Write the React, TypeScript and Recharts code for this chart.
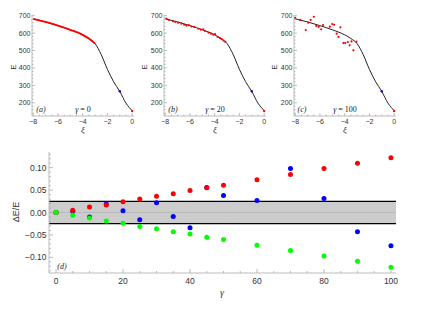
import React from 'react';
import { ComposedChart, Line, Scatter, XAxis, YAxis, ReferenceArea, ReferenceLine } from 'recharts';

const FRAME = '#ababab';
const TICK_TEXT = '#333333';
const SANS = '"Liberation Sans", Arial, sans-serif';
const SERIF = '"Liberation Serif", "Times New Roman", serif';

// fitted E(ξ) curve, drawn in all three top panels
const curveXi = [-8, -7, -6, -5, -4, -3.5, -3, -2.5, -2, -1.5, -1, -0.5, 0];
const curveE = [682, 664, 643, 619, 590, 569, 540, 476, 392, 321, 265, 198, 155];

// (a) γ = 0: the red points lie on the curve from ξ = -8 to -3
const redXiA = [-8, -7, -6, -5, -4, -3.5, -3];
const redEA = [682, 664, 643, 619, 590, 569, 540];

// (b) γ = 20
const redXiB = [-7.9, -7.7, -7.37, -7.18, -6.96, -6.69, -6.47, -6.29, -6.1, -5.88, -5.66, -5.33, -5.12, -4.92, -4.79, -4.5, -4.3, -4.11, -3.97, -3.76, -3.57, -3.43, -3.29, -3.15];
const redEB = [684, 676, 668, 664, 660, 654, 648, 643, 646, 638, 636, 625, 620, 622, 612, 603, 597, 591, 594, 578, 571, 566, 557, 550];

// (c) γ = 100
const redXiC = [-8.0, -7.6, -7.15, -6.95, -6.75, -6.5, -6.3, -6.1, -5.9, -5.75, -5.2, -5.0, -4.85, -4.65, -4.5, -4.35, -4.1, -3.95, -3.75, -3.6, -3.45, -3.3, -3.05];
const redEC = [687, 676, 618, 660, 676, 694, 641, 636, 622, 646, 637, 652, 648, 597, 578, 633, 543, 543, 549, 530, 552, 501, 551];

// points common to every top panel
const endXi = [0];
const endE = [152];
const blueXi = [-1];
const blueE = [266];

// (d) relative deviation vs γ
const gammas = [0, 5, 10, 15, 20, 25, 30, 35, 40, 45, 50, 60, 70, 80, 90, 100];
const redDev = [0, 0.005, 0.012, 0.017, 0.024, 0.03, 0.036, 0.042, 0.049, 0.055, 0.061, 0.073, 0.085, 0.098, 0.11, 0.122];
const blueDev = [0, 0.003, -0.01, 0.019, 0.004, -0.016, 0.022, -0.009, -0.034, 0.056, 0.038, 0.027, 0.098, 0.031, -0.043, -0.074];
const greenDev = [0, -0.006, -0.012, -0.019, -0.024, -0.031, -0.036, -0.043, -0.048, -0.055, -0.06, -0.073, -0.085, -0.097, -0.109, -0.122];

const BAND = 0.025;

const xiMajor = [-8, -6, -4, -2, 0];
const eMajor = [200, 300, 400, 500, 600, 700];
const gammaMajor = [0, 20, 40, 60, 80, 100];
const devMajor = [-0.1, -0.05, 0, 0.05, 0.1];

const steps = (from: number, to: number, step: number) => {
  const out: number[] = [];
  for (let i = 0; from + i * step <= to + 1e-9; i++) out.push(+(from + i * step).toFixed(4));
  return out;
};
const xiTicks = steps(-8, 0, 0.5);
const eTicks = steps(140, 700, 20);
const gammaTicks = steps(0, 100, 5);
const devTicks = steps(-0.13, 0.13, 0.01);

const pts = (xs: number[], ys: number[]) => xs.map((x, i) => ({ x, y: ys[i] }));
const minus = (s: string) => s.replace('-', '\u2212');

const isIn = (v: number, list: number[]) => list.some(m => Math.abs(m - v) < 1e-6);

// Mathematica-like ticks: inward, labelled only on major values
const bottomTick = (major: number[], fmt: (v: number) => string, fontSize: number, dy: number, big: number, small: number) =>
  (p: any) => {
    const m = isIn(p.payload.value, major);
    return (
      <g>
        <line x1={p.x} x2={p.x} y1={p.y} y2={p.y - (m ? big : small)} stroke={FRAME} strokeWidth={0.8} />
        {m && (
          <text x={p.x} y={p.y + dy} textAnchor="middle" fontSize={fontSize} fontFamily={SANS} fill={TICK_TEXT}>
            {fmt(p.payload.value)}
          </text>
        )}
      </g>
    );
  };

const leftTick = (major: number[], fmt: (v: number) => string, fontSize: number, dx: number, big: number, small: number) =>
  (p: any) => {
    const m = isIn(p.payload.value, major);
    return (
      <g>
        <line x1={p.x} x2={p.x + (m ? big : small)} y1={p.y} y2={p.y} stroke={FRAME} strokeWidth={0.8} />
        {m && (
          <text x={p.x - dx} y={p.y + fontSize * 0.36} textAnchor="end" fontSize={fontSize} fontFamily={SANS} fill={TICK_TEXT}>
            {fmt(p.payload.value)}
          </text>
        )}
      </g>
    );
  };

const topTick = (major: number[], big: number, small: number) => (p: any) => {
  const m = isIn(p.payload.value, major);
  return <line x1={p.x} x2={p.x} y1={p.y} y2={p.y + (m ? big : small)} stroke={FRAME} strokeWidth={0.8} />;
};

const rightTick = (major: number[], big: number, small: number) => (p: any) => {
  const m = isIn(p.payload.value, major);
  return <line x1={p.x} x2={p.x - (m ? big : small)} y1={p.y} y2={p.y} stroke={FRAME} strokeWidth={0.8} />;
};

const dot = (r: number, fill: string) => (p: any) => <circle cx={p.cx} cy={p.cy} r={r} fill={fill} />;

const XI_DOMAIN: [number, number] = [-8.1, 0.15];
const E_DOMAIN: [number, number] = [124, 704];

interface PanelProps {
  left: number;
  red: { x: number; y: number }[];
  redLine?: boolean;
}

const EPanel: React.FC<PanelProps> = ({ left, red, redLine }) => (
  <div style={{ position: 'absolute', left, top: 0 }}>
    <ComposedChart width={140} height={140} margin={{ top: 15, right: 6, bottom: 4, left: 0 }}>
      <XAxis type="number" dataKey="x" domain={XI_DOMAIN} allowDataOverflow ticks={xiTicks} interval={0}
        tickSize={0} tickMargin={0} height={20} axisLine={{ stroke: FRAME, strokeWidth: 0.8 }}
        tick={bottomTick(xiMajor, v => minus(String(v)), 7, 8.2, 3, 1.5)} />
      <XAxis xAxisId="top" orientation="top" type="number" domain={XI_DOMAIN} allowDataOverflow ticks={xiTicks} interval={0}
        tickSize={0} tickMargin={0} height={0} axisLine={{ stroke: FRAME, strokeWidth: 0.8 }} tick={topTick(xiMajor, 3, 1.5)} />
      <YAxis type="number" dataKey="y" domain={E_DOMAIN} allowDataOverflow ticks={eTicks} interval={0}
        tickSize={0} tickMargin={0} width={32} axisLine={{ stroke: FRAME, strokeWidth: 0.8 }}
        tick={leftTick(eMajor, v => String(v), 7, 1.5, 3, 1.5)} />
      <YAxis yAxisId="right" orientation="right" type="number" domain={E_DOMAIN} allowDataOverflow ticks={eTicks} interval={0}
        tickSize={0} tickMargin={0} width={0} axisLine={{ stroke: FRAME, strokeWidth: 0.8 }} tick={rightTick(eMajor, 3, 1.5)} />
      <Line data={pts(curveXi, curveE)} dataKey="y" type="monotone" stroke="#222222" strokeWidth={1} dot={false} isAnimationActive={false} />
      {redLine ? (
        <Line data={red} dataKey="y" type="monotone" stroke="#ff0000" strokeWidth={1.8} dot={false} isAnimationActive={false} />
      ) : (
        <Scatter data={red} fill="#ff0000" shape={dot(1.1, '#ff0000')} isAnimationActive={false} />
      )}
      <Scatter data={pts(endXi, endE)} fill="#ff0000" shape={dot(1.2, '#ff0000')} isAnimationActive={false} />
      <Scatter data={pts(blueXi, blueE)} fill="#0000ff" shape={dot(1.2, '#0000ff')} isAnimationActive={false} />
    </ComposedChart>
  </div>
);

const DEV_DOMAIN: [number, number] = [-0.135, 0.135];
const GAMMA_DOMAIN: [number, number] = [-2.1, 101.5];

const DevPanel: React.FC = () => (
  <div style={{ position: 'absolute', left: 0, top: 140 }}>
    <ComposedChart width={427} height={180} margin={{ top: 12, right: 31, bottom: 27, left: 0 }}>
      <XAxis type="number" dataKey="x" domain={GAMMA_DOMAIN} allowDataOverflow ticks={gammaTicks} interval={0}
        tickSize={0} tickMargin={0} height={20} axisLine={{ stroke: FRAME, strokeWidth: 0.8 }}
        tick={bottomTick(gammaMajor, v => String(v), 8.5, 11, 4, 2)} />
      <XAxis xAxisId="top" orientation="top" type="number" domain={GAMMA_DOMAIN} allowDataOverflow ticks={gammaTicks} interval={0}
        tickSize={0} tickMargin={0} height={0} axisLine={{ stroke: FRAME, strokeWidth: 0.8 }} tick={topTick(gammaMajor, 4, 2)} />
      <YAxis type="number" dataKey="y" domain={DEV_DOMAIN} allowDataOverflow ticks={devTicks} interval={0}
        tickSize={0} tickMargin={0} width={49} axisLine={{ stroke: FRAME, strokeWidth: 0.8 }}
        tick={leftTick(devMajor, v => minus(v.toFixed(2)), 8.5, 2.5, 4, 2)} />
      <YAxis yAxisId="right" orientation="right" type="number" domain={DEV_DOMAIN} allowDataOverflow ticks={devTicks} interval={0}
        tickSize={0} tickMargin={0} width={0} axisLine={{ stroke: FRAME, strokeWidth: 0.8 }} tick={rightTick(devMajor, 4, 2)} />
      <ReferenceArea y1={-BAND} y2={BAND} fill="#cccccc" fillOpacity={1} stroke="none" ifOverflow="hidden" />
      <ReferenceLine y={0} stroke="#b4b4b4" strokeWidth={0.8} />
      <ReferenceLine y={BAND} stroke="#000000" strokeWidth={1.2} />
      <ReferenceLine y={-BAND} stroke="#000000" strokeWidth={1.2} />
      <Scatter data={pts(gammas, blueDev)} fill="#0000ff" shape={dot(2.5, '#0000ff')} isAnimationActive={false} />
      <Scatter data={pts(gammas, redDev)} fill="#ff0000" shape={dot(2.5, '#ff0000')} isAnimationActive={false} />
      <Scatter data={pts(gammas, greenDev)} fill="#00ff00" shape={dot(2.5, '#00ff00')} isAnimationActive={false} />
    </ComposedChart>
  </div>
);

const panelCenters = [83, 215, 345];
const eLabelX = [13, 144, 274];
const tags = ['(a)', '(b)', '(c)'];
const tagX = [41, 173, 302];
const gammaValues = ['0', '20', '100'];

const App: React.FC = () => (
  <div style={{ position: 'relative', width: 427, height: 320, margin: -8, background: '#ffffff' }}>
    <EPanel left={0} red={pts(redXiA, redEA)} redLine />
    <EPanel left={132} red={pts(redXiB, redEB)} />
    <EPanel left={262} red={pts(redXiC, redEC)} />
    <DevPanel />
    <svg width={427} height={320} style={{ position: 'absolute', left: 0, top: 0, pointerEvents: 'none' }}>
      {panelCenters.map((cx, i) => (
        <g key={i}>
          <text x={eLabelX[i]} y={67} transform={`rotate(-90 ${eLabelX[i]} 67)`} textAnchor="middle" dominantBaseline="central"
            fontSize={7.5} fontFamily={SANS} fill="#333">E</text>
          <text x={cx} y={133} textAnchor="middle" fontSize={9} fontFamily={SERIF} fontStyle="italic" fill="#333">ξ</text>
          <text x={tagX[i]} y={112} textAnchor="middle" fontSize={8} fontFamily={SERIF} fontStyle="italic" fill="#222">{tags[i]}</text>
          <text x={cx} y={112} textAnchor="middle" fontSize={8} fontFamily={SERIF} fill="#222">
            <tspan fontStyle="italic">γ</tspan> = {gammaValues[i]}
          </text>
        </g>
      ))}
      <text x={16} y={212} transform="rotate(-90 16 212)" textAnchor="middle" dominantBaseline="central"
        fontSize={9} fontFamily={SANS} fill="#333">ΔE/E</text>
      <text x={222} y={296} textAnchor="middle" fontSize={10} fontFamily={SERIF} fontStyle="italic" fill="#333">γ</text>
      <text x={62} y={269} textAnchor="middle" fontSize={8} fontFamily={SERIF} fontStyle="italic" fill="#222">(d)</text>
    </svg>
  </div>
);

export default App;
